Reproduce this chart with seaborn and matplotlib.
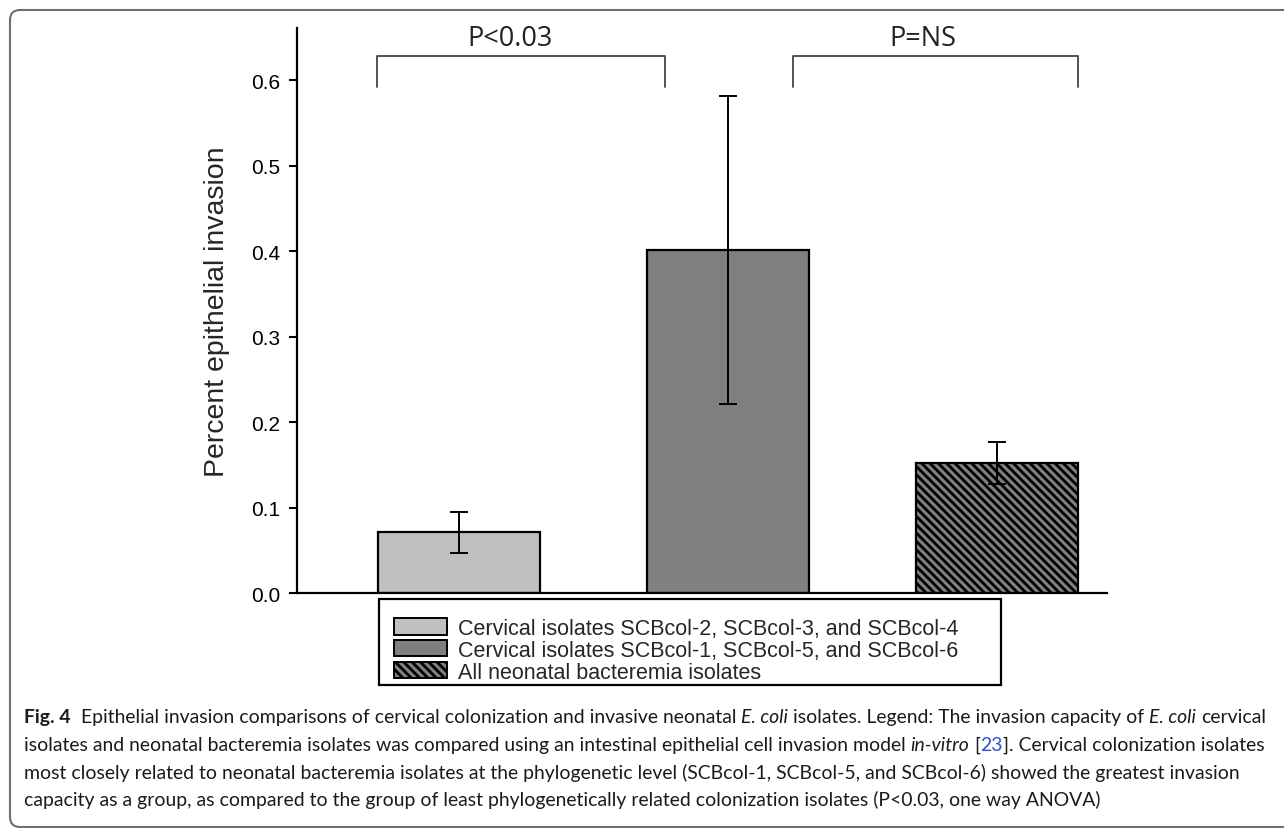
import matplotlib
matplotlib.use("Agg")
import matplotlib.pyplot as plt
from matplotlib.patches import Patch, Rectangle, FancyBboxPatch
from matplotlib.transforms import IdentityTransform
import pandas as pd
import seaborn as sns

# values
groups = ["Cervical isolates SCBcol-2, SCBcol-3, and SCBcol-4",
          "Cervical isolates SCBcol-1, SCBcol-5, and SCBcol-6",
          "All neonatal bacteremia isolates"]
means = [0.071, 0.401, 0.152]
err_low = [0.047, 0.221, 0.127]
err_high = [0.095, 0.581, 0.177]
bar_colors = ["#c0c0c0", "#808080", "#808080"]
yticks = [0.0, 0.1, 0.2, 0.3, 0.4, 0.5, 0.6]
p_labels = ["P<0.03", "P=NS"]

caption_lines = [
    [("Fig. 4", {"weight": "bold"}),
     ("  Epithelial invasion comparisons of cervical colonization and invasive neonatal ", {}),
     ("E. coli", {"style": "italic"}),
     (" isolates. Legend: The invasion capacity of ", {}),
     ("E. coli", {"style": "italic"}),
     (" cervical", {})],
    [("isolates and neonatal bacteremia isolates was compared using an intestinal epithelial cell invasion model ", {}),
     ("in-vitro", {"style": "italic"}),
     (" [", {}),
     ("23", {"color": "#2a4fd6"}),
     ("]. Cervical colonization isolates", {})],
    [("most closely related to neonatal bacteremia isolates at the phylogenetic level (SCBcol-1, SCBcol-5, and SCBcol-6) showed the greatest invasion", {})],
    [("capacity as a group, as compared to the group of least phylogenetically related colonization isolates (P<0.03, one way ANOVA)", {})],
]

W, H = 1284, 829

sns.set_style("ticks")
plt.rcParams["font.family"] = ["Liberation Sans", "DejaVu Sans"]
plt.rcParams["hatch.linewidth"] = 2.0
plt.rcParams["hatch.color"] = "black"

df = pd.DataFrame({"group": groups, "mean": means})

fig = plt.figure(figsize=(W / 100, H / 100), dpi=100)
ax = fig.add_axes([297 / W, 1 - 594 / H, (1107 - 297) / W, (594 - 29) / H])

sns.barplot(data=df, x="group", y="mean", hue="group", order=groups, hue_order=groups,
            palette=bar_colors, width=0.6, edgecolor="black", linewidth=1.6,
            errorbar=None, legend=False, ax=ax, saturation=1)
ax.patches[2].set_hatch("\\\\\\\\")

x = list(range(len(means)))
yerr = [[m - lo for m, lo in zip(means, err_low)], [hi - m for m, hi in zip(means, err_high)]]
ax.errorbar(x, means, yerr=yerr, fmt="none", ecolor="black", elinewidth=1.4,
            capsize=6.5, capthick=1.4, zorder=5)

ax.set_xlim(-0.602, 2.409)
ax.set_ylim(0, 0.661)
ax.set_xticks([])
ax.set_xlabel("")
ax.set_yticks(yticks)
ax.set_yticklabels([f"{t:.1f}" for t in yticks])
ax.tick_params(axis="y", length=6, width=1.5, labelsize=15, pad=6, colors="black")
ax.set_ylabel("Percent epithelial invasion", fontsize=20.5, labelpad=15)
sns.despine(ax=ax)
for s in ["left", "bottom"]:
    ax.spines[s].set_linewidth(1.6)
    ax.spines[s].set_color("black")

# significance brackets
brackets = [(-0.305, 0.765, 0.19), (1.24, 2.30, 1.725)]
for (x0, x1, xt), lab in zip(brackets, p_labels):
    ax.plot([x0, x0, x1, x1], [0.592, 0.628, 0.628, 0.592], color="#444444", lw=1.3,
            clip_on=False, solid_joinstyle="round")
    ax.text(xt, 0.641, lab, ha="center", va="baseline", fontsize=19.5,
            family=["Open Sans", "DejaVu Sans"], color="#222222", clip_on=False)

# legend with a drawn frame
fig.add_artist(Rectangle((379 / W, 1 - 686 / H), (1001 - 379) / W, (686 - 600) / H,
                         transform=fig.transFigure, fill=False, edgecolor="black", lw=1.6))
handles = [Patch(facecolor=c, edgecolor="black", linewidth=1.4) for c in bar_colors]
handles[2].set_hatch("\\\\\\\\")
fig.legend(handles, groups, loc="upper left", bbox_to_anchor=(394 / W, 1 - 619 / H),
           frameon=False, fontsize=15.5, handlelength=2.45, handleheight=0.78,
           handletextpad=0.5, labelspacing=0.04, borderpad=0, borderaxespad=0)

# outer rounded border
fig.add_artist(FancyBboxPatch((10, 1), 1400, H - 12, boxstyle="round,pad=0,rounding_size=10",
                              transform=IdentityTransform(), fill=False, edgecolor="#6f6f6f", lw=1.5))

# caption, drawn run by run
renderer = fig.canvas.get_renderer()
cap_font = ["Lato", "DejaVu Sans"]


def text_width(s, size, **kw):
    t = fig.text(0, 0, s, fontsize=size, family=cap_font, transform=IdentityTransform(), **kw)
    w = t.get_window_extent(renderer).width
    t.remove()
    return w


def draw_line(runs, x0, y, size, draw=True):
    sp = text_width("x x", size) - text_width("xx", size)
    xx = x0
    for txt, kw in runs:
        lead = len(txt) - len(txt.lstrip(" "))
        trail = len(txt) - len(txt.rstrip(" "))
        core = txt.strip(" ")
        xx += lead * sp
        w = text_width(core, size, **kw)
        if draw:
            fig.text(xx, y, core, fontsize=size, family=cap_font, va="baseline",
                     transform=IdentityTransform(), color=kw.get("color", "#1a1a1a"),
                     weight=kw.get("weight", "normal"), style=kw.get("style", "normal"))
        xx += w + trail * sp
    return xx - x0


x_start = 24
trial = 13.0
w1 = draw_line(caption_lines[0], x_start, 0, trial, draw=False)
cap_size = trial * (1262 - x_start) / w1
baselines = [723, 751, 779, 806]
for runs, yb in zip(caption_lines, baselines):
    draw_line(runs, x_start, H - yb, cap_size)

fig.savefig("out.png", dpi=100, facecolor="white")
